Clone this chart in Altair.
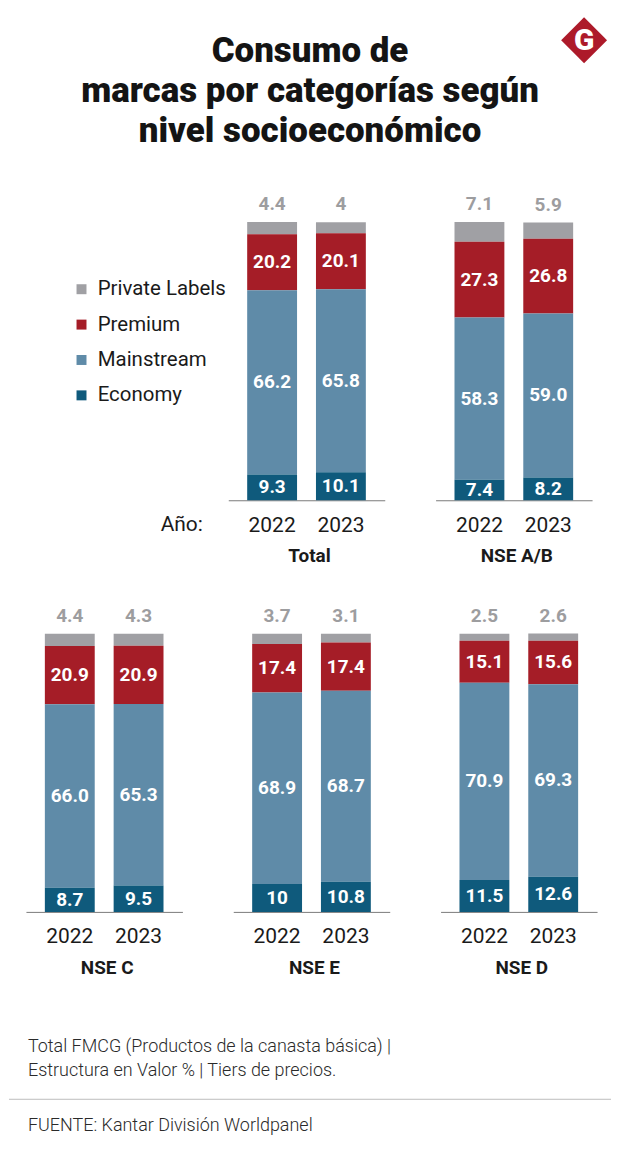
import altair as alt
import pandas as pd

FONT = "Roboto"

title_lines = ["Consumo de", "marcas por categorías según", "nivel socioeconómico"]
logo_letter = ["G"]
panels = ["Total", "NSE A/B", "NSE C", "NSE E", "NSE D"]
years = ["2022", "2023"]
tiers = ["Private Labels", "Premium", "Mainstream", "Economy"]
tier_colors = ["#a0a0a4", "#a51d27", "#5f8ba8", "#0f5a7c"]

# values per panel, [2022, 2023], as printed on the chart
private_labels = {"Total": ["4.4", "4"], "NSE A/B": ["7.1", "5.9"], "NSE C": ["4.4", "4.3"],
                  "NSE E": ["3.7", "3.1"], "NSE D": ["2.5", "2.6"]}
premium = {"Total": ["20.2", "20.1"], "NSE A/B": ["27.3", "26.8"], "NSE C": ["20.9", "20.9"],
           "NSE E": ["17.4", "17.4"], "NSE D": ["15.1", "15.6"]}
mainstream = {"Total": ["66.2", "65.8"], "NSE A/B": ["58.3", "59.0"], "NSE C": ["66.0", "65.3"],
              "NSE E": ["68.9", "68.7"], "NSE D": ["70.9", "69.3"]}
economy = {"Total": ["9.3", "10.1"], "NSE A/B": ["7.4", "8.2"], "NSE C": ["8.7", "9.5"],
           "NSE E": ["10", "10.8"], "NSE D": ["11.5", "12.6"]}

notes = ["Total FMCG (Productos de la canasta básica) |", "Estructura en Valor % | Tiers de precios."]
source = ["FUENTE: Kantar División Worldpanel"]

series = {"Private Labels": private_labels, "Premium": premium,
          "Mainstream": mainstream, "Economy": economy}
stack_order = {"Economy": 0, "Mainstream": 1, "Premium": 2, "Private Labels": 3}

rows = []
for p in panels:
    for i, y in enumerate(years):
        for t in tiers:
            lab = series[t][p][i]
            rows.append({"panel": p, "year": y, "tier": t, "label": lab,
                         "value": float(lab), "order": stack_order[t]})
df = pd.DataFrame(rows)

W, H = 157, 279

color_enc = alt.Color(
    "tier:N",
    scale=alt.Scale(domain=tiers, range=tier_colors),
    legend=alt.Legend(
        title=None, orient="none", legendX=62.5, legendY=270, direction="vertical",
        symbolType="square", symbolSize=100, symbolStrokeWidth=0, symbolOpacity=1,
        labelFont=FONT, labelFontSize=20.5, labelColor="#1a1a1a", labelOffset=6,
        rowPadding=14.5, padding=0,
    ),
)


def panel(name, axis_title=None):
    axis_kw = dict(labelAngle=0, labelFont=FONT, labelFontSize=21, labelColor="#1a1a1a",
                   labelPadding=14, ticks=False, domainColor="#7a7a7a", domainWidth=1)
    if axis_title:
        axis = alt.Axis(title=axis_title, titleX=-26, titleY=24, titleAlign="right",
                        titleBaseline="middle", titleFont=FONT, titleFontSize=21,
                        titleFontWeight="normal", titleColor="#1a1a1a", **axis_kw)
    else:
        axis = alt.Axis(title=None, **axis_kw)
    xs = alt.Scale(domain=years, paddingInner=0.275, paddingOuter=0.275)
    ys = alt.Scale(domain=[0, 100], nice=False)
    base = (
        alt.Chart(df)
        .transform_filter(alt.datum.panel == name)
        .transform_stack(stack="value", groupby=["year"], as_=["v0", "v1"],
                         sort=[alt.SortField("order", order="ascending")])
        .transform_calculate(mid="(datum.v0 + datum.v1) / 2")
        .encode(x=alt.X("year:N", scale=xs, axis=axis))
    )
    bars = base.mark_bar().encode(
        y=alt.Y("v1:Q", scale=ys, axis=None), y2="v0:Q", color=color_enc
    )
    inner = base.transform_filter(alt.datum.tier != "Private Labels").mark_text(
        font=FONT, fontSize=19, fontWeight="bold", color="white", baseline="middle"
    ).encode(y=alt.Y("mid:Q", scale=ys, axis=None), text="label:N")
    top = base.transform_filter(alt.datum.tier == "Private Labels").mark_text(
        font=FONT, fontSize=19, fontWeight="bold", color="#9d9d9f", baseline="middle", dy=-18
    ).encode(y=alt.Y("v1:Q", scale=ys, axis=None), text="label:N")
    return alt.layer(bars, inner, top).properties(
        width=W, height=H,
        title=alt.TitleParams(text=name, orient="bottom", font=FONT, fontSize=19,
                              fontWeight="bold", color="#1a1a1a", offset=12,
                              frame="group", anchor="middle", dx=3),
    )


def spacer(w, h=1):
    return alt.Chart(pd.DataFrame({"s": [""]})).mark_text().encode(text="s:N").properties(
        width=w, height=h)


header_df = pd.DataFrame({"t": ["\n".join(title_lines)]})
title_mark = alt.Chart(header_df).mark_text(
    font=FONT, fontSize=35, fontWeight=900, color="#141414", align="center",
    baseline="alphabetic", lineBreak="\n", lineHeight=40.5,
).encode(text="t:N", x=alt.value(302), y=alt.value(52))
logo_df = pd.DataFrame({"g": logo_letter})
logo_shape = alt.Chart(logo_df).mark_point(
    shape="square", filled=True, size=1060, angle=45, color="#ad1a2a", opacity=1
).encode(x=alt.value(577), y=alt.value(30.5))
logo_text = alt.Chart(logo_df).mark_text(
    font=FONT, fontSize=30, fontWeight=900, color="white", baseline="middle"
).encode(text="g:N", x=alt.value(577), y=alt.value(31.5))
header = alt.layer(title_mark, logo_shape, logo_text).properties(width=604, height=212.5)

notes_df = pd.DataFrame({"t": ["\n".join(notes)]})
src_df = pd.DataFrame({"t": source})
footer_notes = alt.Chart(notes_df).mark_text(
    font=FONT, fontSize=18, fontWeight=300, color="#2a2a2a", align="left",
    baseline="alphabetic", lineBreak="\n", lineHeight=24.5,
).encode(text="t:N", x=alt.value(19), y=alt.value(21.5))
footer_rule = alt.Chart(notes_df).mark_rule(color="#bdbdbd", strokeWidth=1).encode(
    x=alt.value(0), x2=alt.value(604), y=alt.value(69))
footer_src = alt.Chart(src_df).mark_text(
    font=FONT, fontSize=18, fontWeight=300, color="#2a2a2a", align="left",
    baseline="alphabetic",
).encode(text="t:N", x=alt.value(19), y=alt.value(101))
footer = alt.layer(footer_notes, footer_rule, footer_src).properties(width=604, height=120)

row1 = alt.hconcat(
    spacer(220),
    alt.hconcat(panel("Total", "Año:"), panel("NSE A/B"), spacing=51, bounds="flush"),
    spacing=0, bounds="flush",
)
row2 = alt.hconcat(
    spacer(16.5),
    alt.hconcat(panel("NSE C"), panel("NSE E"), panel("NSE D"), spacing=51, bounds="flush"),
    spacing=0, bounds="flush",
)

# nested rows add no height of their own in a flush layout, so the gaps hold the row height too
chart = (
    alt.vconcat(header, row1, spacer(1, H + 133.2), row2, spacer(1, H + 118.3), footer,
                spacing=0, bounds="flush")
    .properties(padding=0, background="white")
    .configure_view(strokeWidth=0)
)

chart.save("out.html", embed_options={"renderer": "svg", "actions": False})
